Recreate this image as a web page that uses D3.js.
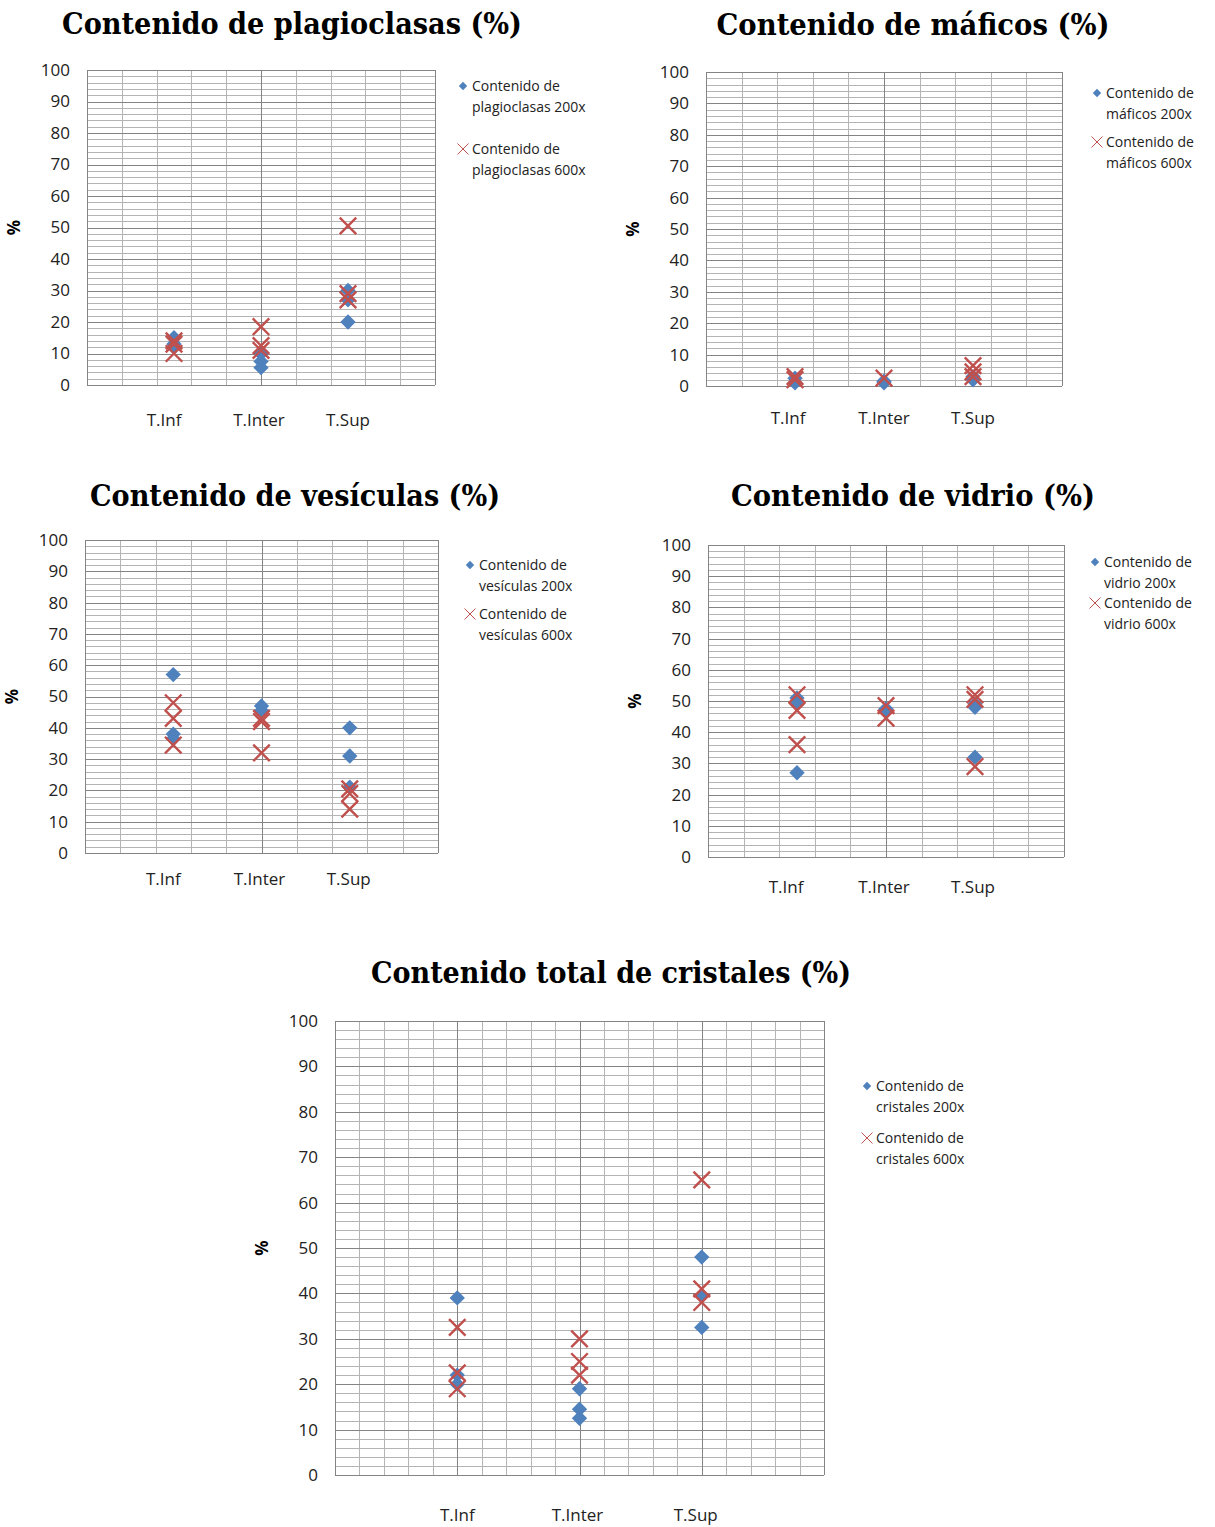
<!DOCTYPE html>
<html>
<head>
<meta charset="utf-8">
<script src="https://cdn.jsdelivr.net/npm/d3@7"></script>
<style>
  body { margin: 0; background: #fff; }
  .tick text { font-family: "Open Sans", sans-serif; font-size: 17px; fill: #222; }
</style>
</head>
<body>
<div class="chart"></div>
<script>
// Category and tick labels
var categories = ["T.Inf", "T.Inter", "T.Sup"];
var yTickValues = [0, 10, 20, 30, 40, 50, 60, 70, 80, 90, 100];

// Values per category, in the order T.Inf, T.Inter, T.Sup
var plagioclasas200 = [[15, 13, 12], [10, 7.5, 5.5], [30, 27, 20]];
var plagioclasas600 = [[14, 13, 10], [18.5, 12.5, 11], [50.5, 29, 27]];
var maficos200 = [[2.5, 1], [1.5, 1], [3, 2]];
var maficos600 = [[3, 2], [2.5], [6.5, 4.5, 3]];
var vesiculas200 = [[57, 38, 36.5], [47, 45.5], [40, 31, 21]];
var vesiculas600 = [[48, 43, 34.5], [43, 42, 32], [20.5, 19, 14]];
var vidrio200 = [[51, 49, 27], [47.5, 47], [49, 48, 32]];
var vidrio600 = [[52, 47, 36], [48.5, 44.5], [52, 50.5, 29]];
var cristales200 = [[39, 22, 20], [19, 14.5, 12.5], [48, 39.5, 32.5]];
var cristales600 = [[32.5, 22.5, 19], [30, 25, 22], [65, 41, 38]];

var blue = "#4F81BD";
var red = "#C0504D";

// Layout of each panel (plot box, title, legend)
var charts = [
  { title: "Contenido de plagioclasas (%)", titleX: 292, titleY: 34, titleW: 460,
    left: 87, right: 435, top: 70, bottom: 385, xMinor: 0.4, xMajor: 2, labelY: 426,
    labelShift: [-10, -2, 0],
    s200: plagioclasas200, s600: plagioclasas600, name: "plagioclasas",
    legX: 463, legY: 86, legGap: 63 },
  { title: "Contenido de máficos (%)", titleX: 913, titleY: 35, titleW: 393,
    left: 706, right: 1062, top: 72, bottom: 386, xMinor: 0.4, xMajor: 2, labelY: 424,
    labelShift: [-7, 0, 0],
    s200: maficos200, s600: maficos600, name: "máficos",
    legX: 1097, legY: 93, legGap: 49 },
  { title: "Contenido de vesículas (%)", titleX: 295, titleY: 506, titleW: 410,
    left: 85, right: 438, top: 540, bottom: 853, xMinor: 0.4, xMajor: 2, labelY: 885,
    labelShift: [-10, -2, -1],
    s200: vesiculas200, s600: vesiculas600, name: "vesículas",
    legX: 470, legY: 565, legGap: 49 },
  { title: "Contenido de vidrio (%)", titleX: 913, titleY: 506, titleW: 364,
    left: 708, right: 1064, top: 545, bottom: 857, xMinor: 0.4, xMajor: 2, labelY: 893,
    labelShift: [-11, -2, -2],
    s200: vidrio200, s600: vidrio600, name: "vidrio",
    legX: 1095, legY: 562, legGap: 41 },
  { title: "Contenido total de cristales (%)", titleX: 611, titleY: 983, titleW: 480,
    left: 335, right: 824, top: 1021, bottom: 1475, xMinor: 0.2, xMajor: 1, labelY: 1521,
    labelShift: [0, -2, -6],
    s200: cristales200, s600: cristales600, name: "cristales",
    legX: 867, legY: 1086, legGap: 52 }
];

var svg = d3.select(".chart")
  .append("svg")
  .attr("width", 1215)
  .attr("height", 1527);

charts.forEach(function(c) {
  var x = d3.scaleLinear().domain([0, 4]).range([c.left, c.right]);
  var y = d3.scaleLinear().domain([0, 100]).range([c.bottom, c.top]);
  var g = svg.append("g");

  // title
  g.append("text")
    .attr("x", c.titleX)
    .attr("y", c.titleY)
    .attr("text-anchor", "middle")
    .attr("textLength", c.titleW)
    .attr("lengthAdjust", "spacingAndGlyphs")
    .style("font-family", "DejaVu Serif, serif")
    .style("font-weight", "bold")
    .style("font-size", "29px")
    .text(c.title);

  // minor gridlines
  g.selectAll(".hminor")
    .data(d3.range(0, 100.01, 2))
    .enter().append("line")
    .attr("x1", c.left).attr("x2", c.right)
    .attr("y1", function(d) { return Math.round(y(d)) + 0.5; })
    .attr("y2", function(d) { return Math.round(y(d)) + 0.5; })
    .attr("stroke", "#b4b4b4");
  g.selectAll(".vminor")
    .data(d3.range(0, 4.001, c.xMinor))
    .enter().append("line")
    .attr("y1", c.top).attr("y2", c.bottom)
    .attr("x1", function(d) { return Math.round(x(d)) + 0.5; })
    .attr("x2", function(d) { return Math.round(x(d)) + 0.5; })
    .attr("stroke", "#b4b4b4");

  // major gridlines
  g.selectAll(".hmajor")
    .data(d3.range(0, 100.01, 10))
    .enter().append("line")
    .attr("x1", c.left).attr("x2", c.right)
    .attr("y1", function(d) { return Math.round(y(d)) + 0.5; })
    .attr("y2", function(d) { return Math.round(y(d)) + 0.5; })
    .attr("stroke", "#848484");
  g.selectAll(".vmajor")
    .data(d3.range(0, 4.001, c.xMajor))
    .enter().append("line")
    .attr("y1", c.top).attr("y2", c.bottom)
    .attr("x1", function(d) { return Math.round(x(d)) + 0.5; })
    .attr("x2", function(d) { return Math.round(x(d)) + 0.5; })
    .attr("stroke", "#848484");

  // y axis labels
  var yAxis = d3.axisLeft(y).tickValues(yTickValues).tickSize(0).tickPadding(17);
  g.append("g")
    .attr("transform", "translate(" + c.left + ",0)")
    .call(yAxis)
    .call(function(a) { a.select(".domain").remove(); });

  g.append("text")
    .attr("transform", "translate(" + (c.left - 67) + "," + ((c.top + c.bottom) / 2) + ") rotate(-90)")
    .attr("text-anchor", "middle")
    .style("font-family", "Open Sans, sans-serif")
    .style("font-weight", "bold")
    .style("font-size", "17px")
    .text("%");

  // category labels
  g.selectAll(".cat")
    .data(categories)
    .enter().append("text")
    .attr("x", function(d, i) { return x(i + 1) + c.labelShift[i]; })
    .attr("y", c.labelY)
    .attr("text-anchor", "middle")
    .style("font-family", "Open Sans, sans-serif")
    .style("font-size", "17px")
    .style("fill", "#222")
    .text(function(d) { return d; });

  // flatten points
  var pts200 = [], pts600 = [];
  c.s200.forEach(function(vals, i) { vals.forEach(function(v) { pts200.push({ cat: i + 1, v: v }); }); });
  c.s600.forEach(function(vals, i) { vals.forEach(function(v) { pts600.push({ cat: i + 1, v: v }); }); });

  var diamond = d3.symbol().type(d3.symbolDiamond2).size(150);
  var cross = d3.symbol().type(d3.symbolX).size(180);

  g.selectAll(".p200")
    .data(pts200)
    .enter().append("path")
    .attr("d", diamond)
    .attr("transform", function(d) { return "translate(" + x(d.cat) + "," + y(d.v) + ")"; })
    .attr("fill", blue);

  g.selectAll(".p600")
    .data(pts600)
    .enter().append("path")
    .attr("d", cross)
    .attr("transform", function(d) { return "translate(" + x(d.cat) + "," + y(d.v) + ")"; })
    .attr("fill", "none")
    .attr("stroke", red)
    .attr("stroke-width", 2.4);

  // legend
  var leg = g.append("g");
  leg.append("path")
    .attr("d", d3.symbol().type(d3.symbolDiamond2).size(45))
    .attr("transform", "translate(" + c.legX + "," + c.legY + ")")
    .attr("fill", blue);
  leg.append("path")
    .attr("d", d3.symbol().type(d3.symbolX).size(80))
    .attr("transform", "translate(" + c.legX + "," + (c.legY + c.legGap) + ")")
    .attr("fill", "none")
    .attr("stroke", red)
    .attr("stroke-width", 1);
  [[c.legY, "Contenido de"], [c.legY + 21, c.name + " 200x"],
   [c.legY + c.legGap, "Contenido de"], [c.legY + c.legGap + 21, c.name + " 600x"]]
    .forEach(function(t) {
      leg.append("text")
        .attr("x", c.legX + 9)
        .attr("y", t[0] + 5)
        .style("font-family", "Open Sans, sans-serif")
        .style("font-size", "14px")
        .style("fill", "#222")
        .text(t[1]);
    });
});
</script>
</body>
</html>
